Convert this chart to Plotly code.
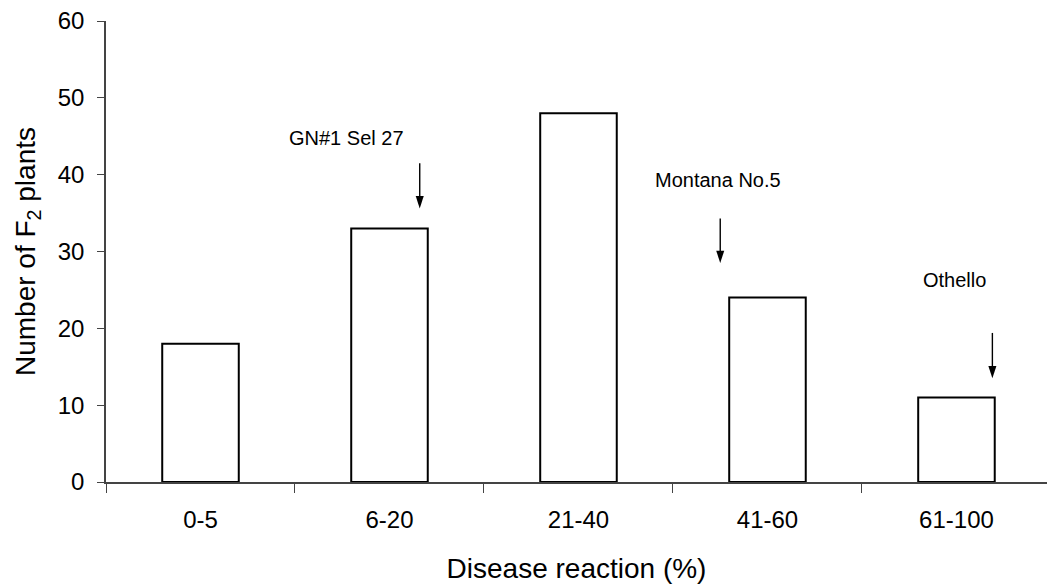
import plotly.graph_objects as go

categories = ["0-5", "6-20", "21-40", "41-60", "61-100"]
counts = [18, 33, 48, 24, 11]

y_ticks = [0, 10, 20, 30, 40, 50, 60]

# cultivar markers: label, arrow x (category index), arrow tail y, arrow head y, label x, label y
marker_labels = ["GN#1 Sel 27", "Montana No.5", "Othello"]
marker_arrow_x = [1.16, 2.75, 4.19]
marker_arrow_tail = [41.5, 34.3, 19.4]
marker_arrow_head = [35.6, 28.5, 13.5]
marker_text_x = [0.775, 2.74, 3.99]
marker_text_y = [44.8, 39.3, 26.3]

FONT = "Liberation Sans, Arial, sans-serif"

positions = list(range(len(categories)))
boundaries = [p - 0.5 for p in positions] + [positions[-1] + 0.5]

fig = go.Figure()
fig.add_trace(go.Bar(
    x=positions, y=counts, width=0.405,
    marker=dict(color="white", line=dict(color="black", width=2)),
    showlegend=False, hoverinfo="skip",
))

# arrow shafts
shaft_x, shaft_y = [], []
for ax_, t, h in zip(marker_arrow_x, marker_arrow_tail, marker_arrow_head):
    shaft_x += [ax_, ax_, None]
    shaft_y += [t, h + 1.0, None]
fig.add_trace(go.Scatter(
    x=shaft_x, y=shaft_y, mode="lines",
    line=dict(color="black", width=1.4), showlegend=False, hoverinfo="skip",
))
# arrow heads (tip sits on the data point)
fig.add_trace(go.Scatter(
    x=marker_arrow_x, y=marker_arrow_head, mode="markers",
    marker=dict(symbol="arrow", angle=180, size=13, color="black", line=dict(width=0)),
    showlegend=False, hoverinfo="skip",
))

for lab, tx, ty in zip(marker_labels, marker_text_x, marker_text_y):
    fig.add_annotation(x=tx, y=ty, xref="x", yref="y", text=lab, showarrow=False,
                       font=dict(family=FONT, size=20, color="black"))

fig.update_layout(
    width=1047, height=587,
    margin=dict(l=106, r=0, t=21, b=105),
    paper_bgcolor="white", plot_bgcolor="white",
    font=dict(family=FONT, color="black", size=24),
)
fig.update_xaxes(
    range=[-0.5, 4.479],
    tickvals=positions, ticktext=categories, ticks="",
    minor=dict(tickvals=boundaries, ticks="outside", ticklen=9, tickcolor="#444",
               tickwidth=1.2, showgrid=False),
    showline=True, linecolor="#444", linewidth=1.5,
    tickfont=dict(size=24), ticklabelstandoff=15,
    showgrid=False, zeroline=False,
    title=dict(text="Disease reaction (%)", font=dict(size=28), standoff=27),
)
fig.update_yaxes(
    range=[0, 60], tickvals=y_ticks,
    showline=True, linecolor="#444", linewidth=1.5,
    ticks="outside", ticklen=7, tickcolor="#444", tickwidth=1.2,
    tickfont=dict(size=24), ticklabelstandoff=8,
    showgrid=False, zeroline=False,
    title=dict(text="Number of F<sub>2</sub> plants", font=dict(size=28), standoff=14),
)

fig.write_html("out.html")
